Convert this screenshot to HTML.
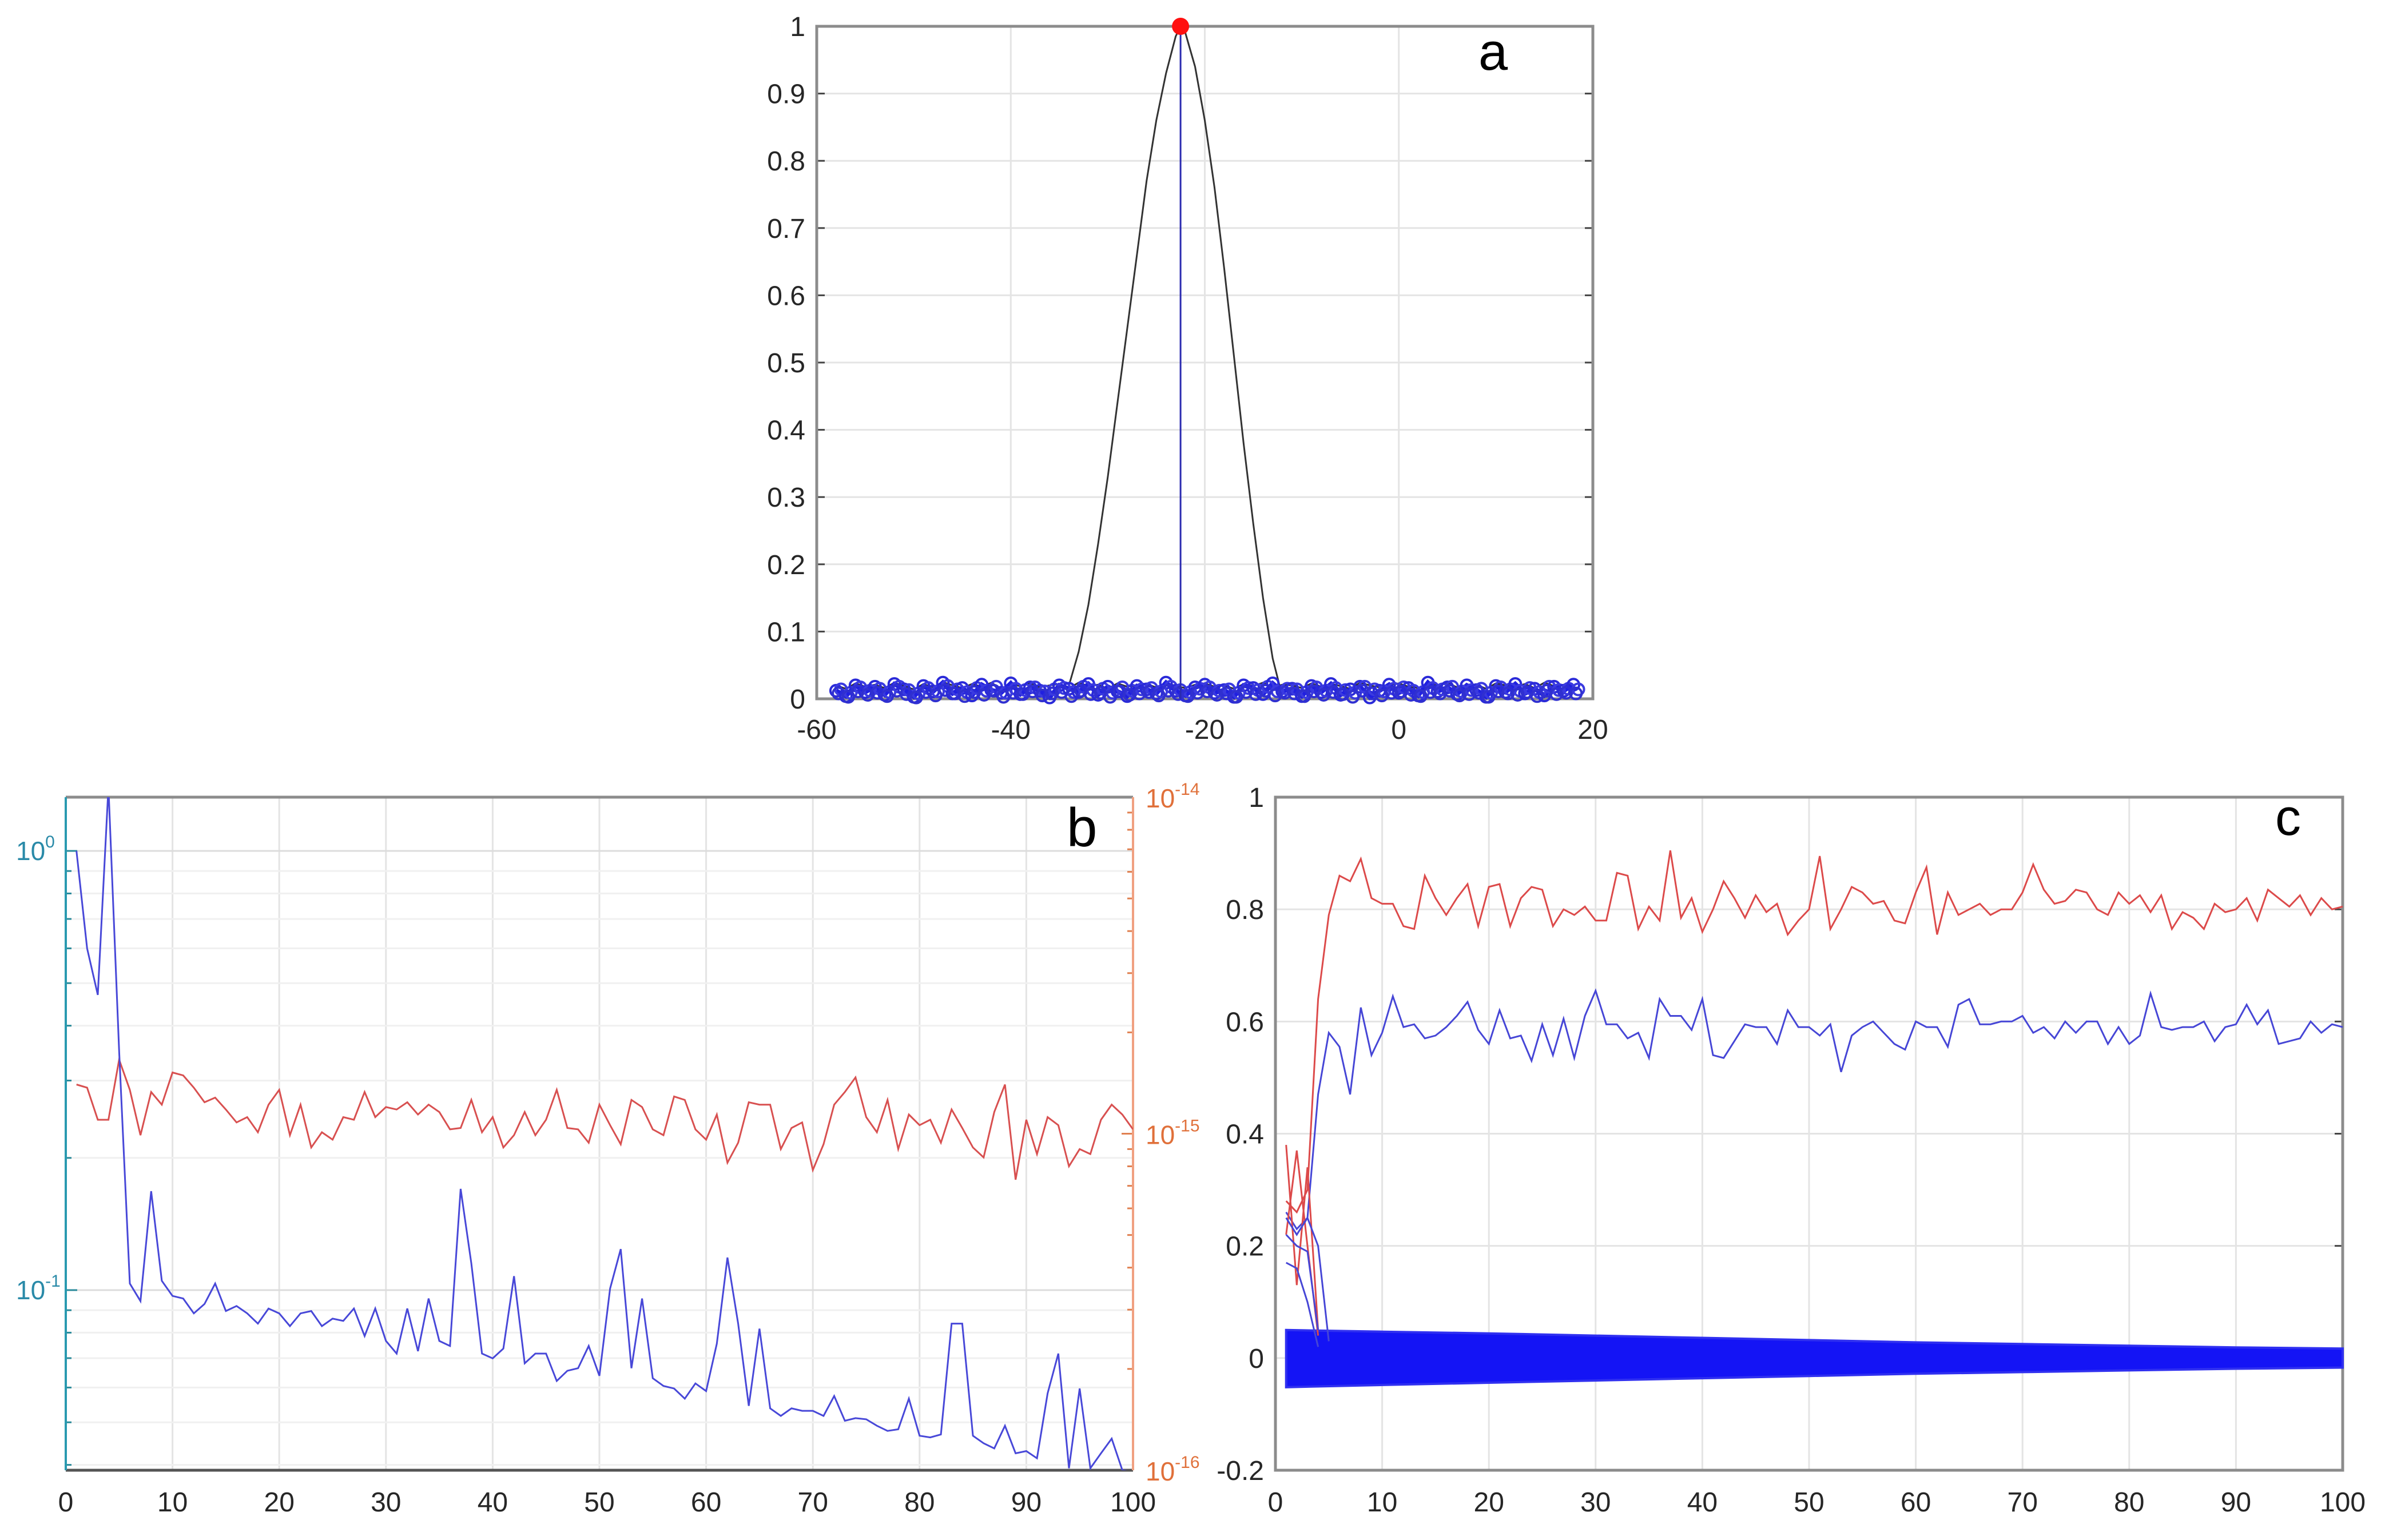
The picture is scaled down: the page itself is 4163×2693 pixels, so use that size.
<!DOCTYPE html>
<html><head><meta charset="utf-8"><style>
html,body{margin:0;padding:0;background:#fff;}
svg{display:block;font-family:"Liberation Sans",Arial,sans-serif;}
</style></head><body>
<svg id="fig" width="4163" height="2693" viewBox="0 0 4163 2693" xmlns="http://www.w3.org/2000/svg">
<rect width="4163" height="2693" fill="#fff"/>
</svg>
<script>
// ---------- Panel a data ----------
const aXTicks = [-60,-40,-20,0,20];
const aYTicks = [0,0.1,0.2,0.3,0.4,0.5,0.6,0.7,0.8,0.9,1];
const aCurveX = [-34,-33,-32,-31,-30,-29,-28,-27,-26,-25,-24,-23,-22.5,-22,-21,-20,-19,-18,-17,-16,-15,-14,-13,-12.3];
const aCurveY = [0.02,0.07,0.14,0.23,0.33,0.44,0.55,0.66,0.77,0.86,0.93,0.985,1.0,0.99,0.94,0.86,0.76,0.64,0.51,0.38,0.26,0.15,0.06,0.02];
const aPeakX = -22.5;
const aPeakY = 1;
const aNoiseStart = -58;
const aCircleY = [0.012,0.004,0.02,0.01,0.018,0.006,0.022,0.014,0.003,0.019,0.011,0.024,0.008,0.016,0.005,0.021,0.013,0.009,0.023,0.007,0.017,0.012,0.002,0.02,0.015,0.01,0.022,0.006,0.018,0.011,0.004,0.019,0.014,0.008,0.024,0.012,0.005,0.017,0.021,0.009,0.013,0.003,0.02,0.016,0.007,0.023,0.011,0.015,0.004,0.019,0.01,0.022,0.006,0.014,0.018,0.002,0.012,0.021,0.009,0.016,0.005,0.024,0.011,0.017,0.007,0.02,0.013,0.003,0.019,0.01,0.022,0.008,0.015,0.005,0.018,0.012,0.021];
const aBlackY = [0.02,0.015,0.023,0.018,0.021,0.016,0.024,0.019,0.014,0.022,0.017,0.025,0.02,0.016,0.022,0.018,0.024,0.015,0.021,0.019,0.023,0.017,0.02,0.022,0.016,0.024,0.019,0.021,0.015,0.023,0.018,0.02,0.022,0.017,0.024,0.019,0.016,0.021,0.023,0.018,0.02,0.015,0.022,0.019,0.024,0.017,0.021,0.02,0.016,0.023,0.018,0.022,0.019,0.015,0.024,0.02,0.017,0.021,0.023,0.018,0.016,0.022,0.02,0.024,0.017,0.019,0.021,0.015,0.023,0.02,0.018,0.022,0.016,0.024,0.019,0.021,0.02];
// ---------- Panel b data ----------
const bXTicks = [0,10,20,30,40,50,60,70,80,90,100];
const bBlue = [1.0,0.60,0.47,1.4,0.35,0.1035,0.0944,0.168,0.105,0.097,0.0957,0.0885,0.093,0.1035,0.0896,0.092,0.0885,0.0839,0.0908,0.0885,0.0828,0.0885,0.0896,0.0828,0.0861,0.0851,0.0908,0.0786,0.0908,0.0766,0.0717,0.0908,0.0726,0.0957,0.0766,0.0746,0.170,0.115,0.0717,0.0699,0.0736,0.1076,0.0681,0.0717,0.0717,0.0621,0.0655,0.0664,0.0746,0.0638,0.1008,0.124,0.0664,0.0957,0.0630,0.0605,0.0597,0.0566,0.0613,0.0589,0.0755,0.1186,0.0839,0.0545,0.0817,0.0538,0.0517,0.0538,0.0531,0.0531,0.0517,0.0574,0.0504,0.0511,0.0508,0.0491,0.0478,0.0482,0.0566,0.0466,0.0462,0.0469,0.0839,0.0839,0.0466,0.0448,0.0436,0.0491,0.0425,0.0430,0.0414,0.0582,0.0717,0.0393,0.0597,0.0393,0.0425,0.0459,0.0389,0.0385];
const bRed = [1.40e-15,1.37e-15,1.10e-15,1.10e-15,1.66e-15,1.35e-15,0.99e-15,1.33e-15,1.22e-15,1.52e-15,1.49e-15,1.37e-15,1.24e-15,1.28e-15,1.18e-15,1.08e-15,1.12e-15,1.01e-15,1.22e-15,1.35e-15,0.99e-15,1.22e-15,0.91e-15,1.01e-15,0.96e-15,1.12e-15,1.10e-15,1.33e-15,1.12e-15,1.20e-15,1.18e-15,1.24e-15,1.14e-15,1.22e-15,1.16e-15,1.03e-15,1.04e-15,1.26e-15,1.01e-15,1.12e-15,0.91e-15,0.99e-15,1.16e-15,0.99e-15,1.10e-15,1.35e-15,1.04e-15,1.03e-15,0.94e-15,1.22e-15,1.06e-15,0.93e-15,1.26e-15,1.20e-15,1.03e-15,0.99e-15,1.29e-15,1.26e-15,1.03e-15,0.96e-15,1.14e-15,0.82e-15,0.94e-15,1.24e-15,1.22e-15,1.22e-15,0.90e-15,1.04e-15,1.08e-15,0.78e-15,0.93e-15,1.22e-15,1.33e-15,1.47e-15,1.12e-15,1.01e-15,1.26e-15,0.90e-15,1.14e-15,1.06e-15,1.10e-15,0.94e-15,1.18e-15,1.04e-15,0.91e-15,0.85e-15,1.16e-15,1.40e-15,0.73e-15,1.10e-15,0.87e-15,1.12e-15,1.06e-15,0.80e-15,0.90e-15,0.87e-15,1.10e-15,1.22e-15,1.14e-15,1.03e-15];
// ---------- Panel c data ----------
const cXTicks = [0,10,20,30,40,50,60,70,80,90,100];
const cYTicks = [-0.2,0,0.2,0.4,0.6,0.8,1];
const cRed = [0.28,0.26,0.30,0.64,0.79,0.86,0.85,0.89,0.82,0.81,0.81,0.77,0.765,0.86,0.82,0.79,0.82,0.845,0.77,0.84,0.845,0.77,0.82,0.84,0.835,0.77,0.80,0.79,0.805,0.78,0.78,0.865,0.86,0.765,0.805,0.78,0.905,0.785,0.82,0.76,0.80,0.85,0.82,0.785,0.825,0.795,0.81,0.755,0.78,0.80,0.895,0.765,0.80,0.84,0.83,0.81,0.815,0.78,0.775,0.83,0.875,0.755,0.83,0.79,0.80,0.81,0.79,0.80,0.80,0.83,0.88,0.835,0.81,0.815,0.835,0.83,0.80,0.79,0.83,0.81,0.825,0.795,0.825,0.765,0.795,0.785,0.765,0.81,0.795,0.80,0.82,0.78,0.835,0.82,0.805,0.825,0.79,0.82,0.80,0.805];
const cBlue = [0.26,0.23,0.25,0.47,0.58,0.555,0.47,0.625,0.54,0.58,0.645,0.59,0.595,0.57,0.575,0.59,0.61,0.635,0.585,0.56,0.62,0.57,0.575,0.53,0.595,0.54,0.605,0.535,0.61,0.655,0.595,0.595,0.57,0.58,0.535,0.64,0.61,0.61,0.585,0.64,0.54,0.535,0.565,0.595,0.59,0.59,0.56,0.62,0.59,0.59,0.575,0.595,0.51,0.575,0.59,0.60,0.58,0.56,0.55,0.60,0.59,0.59,0.555,0.63,0.64,0.595,0.595,0.60,0.60,0.61,0.58,0.59,0.57,0.60,0.58,0.60,0.60,0.56,0.59,0.56,0.575,0.65,0.59,0.585,0.59,0.59,0.60,0.565,0.59,0.595,0.63,0.595,0.62,0.56,0.565,0.57,0.60,0.58,0.595,0.59];
const cEarlyRed1 = [0.38,0.13,0.34,0.05];
const cEarlyRed2 = [0.22,0.37,0.20,0.04];
const cEarlyBlue1 = [0.17,0.16,0.10,0.02];
const cEarlyBlue2 = [0.22,0.20,0.19,0.05];
const cEarlyBlue3 = [0.25,0.22,0.25,0.20,0.03];
const cBandX = [1,10,20,30,40,50,60,70,80,90,100];
const cBandTop = [0.05,0.047,0.044,0.04,0.036,0.032,0.028,0.025,0.022,0.019,0.017];
const cBandBot = [-0.052,-0.048,-0.044,-0.04,-0.036,-0.032,-0.028,-0.025,-0.022,-0.019,-0.017];

const NS = 'http://www.w3.org/2000/svg';
const svg = document.getElementById('fig');
function mk(tag, attrs, parent){
  const e = document.createElementNS(NS, tag);
  for (const k in attrs) e.setAttribute(k, attrs[k]);
  (parent||svg).appendChild(e);
  return e;
}
function poly(xs, ys, fx, fy){
  return xs.map((x,i)=>(i?'L':'M')+fx(x).toFixed(1)+','+fy(ys[i]).toFixed(1)).join(' ');
}
const GRID = '#e4e4e4', AX = '#8c8c8c', TXT = '#262626';

// ================= Panel a =================
const aL=1428,aR=2785,aT=46,aB=1222;
const ax = v => aL + (v+60)/80*(aR-aL);
const ay = v => aB - v*(aB-aT);
const ga = mk('g',{});


aXTicks.forEach(t=>{
  const g = mk('line',{x1:ax(t),x2:ax(t),y1:aT,y2:aB,stroke:GRID,'stroke-width':3},ga);
  
  
  const tx = mk('text',{x:ax(t),y:aB+70,'font-size':48,fill:TXT,'text-anchor':'middle'},ga);
  tx.textContent = t;
  
  
});
aYTicks.forEach(t=>{
  const g = mk('line',{x1:aL,x2:aR,y1:ay(t),y2:ay(t),stroke:GRID,'stroke-width':3},ga);
  
  
  const k1 = mk('line',{x1:aL,x2:aL+14,y1:ay(t),y2:ay(t),stroke:'#444','stroke-width':3},ga);
  
  
  const k2 = mk('line',{x1:aR-14,x2:aR,y1:ay(t),y2:ay(t),stroke:'#444','stroke-width':3},ga);
  
  
  const tx = mk('text',{x:aL-20,y:ay(t)+17,'font-size':48,fill:TXT,'text-anchor':'end'},ga);
  tx.textContent = t;
  
  
});
const aBox = mk('rect',{x:aL,y:aT,width:aR-aL,height:aB-aT,fill:'none',stroke:AX,'stroke-width':5},ga);


const aNX = aCircleY.map((_,i)=>aNoiseStart+i);
const aBl = mk('path',{d:poly(aNX,aBlackY,ax,ay),fill:'none',stroke:'#333','stroke-width':3},ga);


const aCurve = mk('path',{d:poly(aCurveX,aCurveY,ax,ay),fill:'none',stroke:'#333','stroke-width':3,'stroke-linejoin':'round'},ga);


const aBlueLine = mk('path',{d:poly(aNX,aCircleY,ax,ay),fill:'none',stroke:'#2020e0','stroke-width':8},ga);


aNX.forEach((x,i)=>{
  const c = mk('circle',{cx:ax(x),cy:ay(aCircleY[i]),r:10,fill:'none',stroke:'#2a2ad8','stroke-width':4},ga);
  
  
  const c2 = mk('circle',{cx:ax(x+0.5),cy:ay(aBlackY[i]-0.006),r:10,fill:'none',stroke:'#3a3ae0','stroke-width':4},ga);
  
  
  const c3 = mk('circle',{cx:ax(x+0.25),cy:ay(aBlackY[i]-0.012),r:10,fill:'none',stroke:'#3030d0','stroke-width':4},ga);
  
  
});
const aStem = mk('line',{x1:ax(aPeakX),x2:ax(aPeakX),y1:ay(0),y2:ay(aPeakY),stroke:'#2a2ab0','stroke-width':3},ga);


const aDot = mk('circle',{cx:ax(aPeakX),cy:ay(aPeakY),r:15,fill:'#ff1010'},ga);


const aLab = mk('text',{x:2585,y:122,'font-size':92,fill:'#000'},ga);
aLab.textContent='a';



// ================= Panel b =================
const bL=115,bR=1981,bT=1394,bB=2571;
const bx = v => bL + v/100*(bR-bL);
const byL = v => 1488 - Math.log10(v)*768;
const byR = v => bB - (Math.log10(v)+16)/2*(bB-bT);
const gb = mk('g',{});


bXTicks.forEach(t=>{
  const g = mk('line',{x1:bx(t),x2:bx(t),y1:bT,y2:bB,stroke:GRID,'stroke-width':3},gb);
  
  
  const tx = mk('text',{x:bx(t),y:bB+72,'font-size':48,fill:TXT,'text-anchor':'middle'},gb);
  tx.textContent = t;
  
  
});
[0.04,0.05,0.06,0.07,0.08,0.09,0.1,0.2,0.3,0.4,0.5,0.6,0.7,0.8,0.9,1].forEach(v=>{
  const major = (v===0.1||v===1);
  const g = mk('line',{x1:bL,x2:bR,y1:byL(v),y2:byL(v),stroke:major?'#dcdcdc':'#f0f0f0','stroke-width':3},gb);
  
  
  const k = mk('line',{x1:bL,x2:bL+(major?20:10),y1:byL(v),y2:byL(v),stroke:'#2a8a9a','stroke-width':3},gb);
  
  
});
[2e-16,3e-16,4e-16,5e-16,6e-16,7e-16,8e-16,9e-16,1e-15,2e-15,3e-15,4e-15,5e-15,6e-15,7e-15,8e-15,9e-15].forEach(v=>{
  const k = mk('line',{x1:bR-(v===1e-15?20:10),x2:bR,y1:byR(v),y2:byR(v),stroke:'#e08050','stroke-width':3},gb);
  
  
});
const bTop = mk('line',{x1:bL,x2:bR,y1:bT,y2:bT,stroke:AX,'stroke-width':5},gb);


const bBot = mk('line',{x1:bL,x2:bR,y1:bB,y2:bB,stroke:'#555','stroke-width':5},gb);


const bLA = mk('line',{x1:bL,x2:bL,y1:bT,y2:bB,stroke:'#2a9ab0','stroke-width':4},gb);


const bRA = mk('line',{x1:bR,x2:bR,y1:bT,y2:bB,stroke:'#f0a080','stroke-width':4},gb);


[[1,'0'],[0.1,'-1']].forEach(([v,e])=>{
  const tx = mk('text',{x:28,y:byL(v)+16,'font-size':46,fill:'#2a8aa8'},gb);
  
  
  const t1 = mk('tspan',{},tx); t1.textContent='10';
  const t2 = mk('tspan',{dy:-22,'font-size':30},tx); t2.textContent=e;
});
[[1e-14,'-14'],[1e-15,'-15'],[1e-16,'-16']].forEach(([v,e])=>{
  const tx = mk('text',{x:bR+22,y:byR(v)+18,'font-size':46,fill:'#e0703a'},gb);
  
  
  const t1 = mk('tspan',{},tx); t1.textContent='10';
  const t2 = mk('tspan',{dy:-22,'font-size':30},tx); t2.textContent=e;
});
const clipB = mk('clipPath',{id:'clipB'});
mk('rect',{x:bL,y:bT,width:bR-bL,height:bB-bT},clipB);
const bIdx = bBlue.map((_,i)=>i+1);
const bRedP = mk('path',{d:poly(bIdx,bRed,bx,byR),fill:'none',stroke:'#d85050','stroke-width':3,'clip-path':'url(#clipB)'},gb);


const bBlueP = mk('path',{d:poly(bIdx,bBlue,bx,byL),fill:'none',stroke:'#4848d8','stroke-width':3,'clip-path':'url(#clipB)'},gb);


const bLab = mk('text',{x:1865,y:1480,'font-size':96,fill:'#000'},gb);
bLab.textContent='b';



// ================= Panel c =================
const cL=2230,cR=4096,cT=1394,cB=2571;
const cx = v => cL + v/100*(cR-cL);
const cy = v => cT + (1-v)/1.2*(cB-cT);
const gc = mk('g',{});


cXTicks.forEach(t=>{
  const g = mk('line',{x1:cx(t),x2:cx(t),y1:cT,y2:cB,stroke:GRID,'stroke-width':3},gc);
  
  
  const tx = mk('text',{x:cx(t),y:cB+72,'font-size':48,fill:TXT,'text-anchor':'middle'},gc);
  tx.textContent = t;
  
  
});
cYTicks.forEach(t=>{
  const g = mk('line',{x1:cL,x2:cR,y1:cy(t),y2:cy(t),stroke:GRID,'stroke-width':3},gc);
  
  
  const k = mk('line',{x1:cR-14,x2:cR,y1:cy(t),y2:cy(t),stroke:'#444','stroke-width':3},gc);
  
  
  const tx = mk('text',{x:cL-20,y:cy(t)+17,'font-size':48,fill:TXT,'text-anchor':'end'},gc);
  tx.textContent = Math.round(t*10)/10;
  
  
});
const cBox = mk('rect',{x:cL,y:cT,width:cR-cL,height:cB-cT,fill:'none',stroke:AX,'stroke-width':5},gc);


const bandXs = cBandX.concat(cBandX.slice().reverse());
const bandYs = cBandTop.concat(cBandBot.slice().reverse());
const band = mk('path',{d:poly(bandXs,bandYs,cx,cy)+' Z',fill:'#1414f5',stroke:'#3030f0','stroke-width':4},gc);


const idx = cRed.map((_,i)=>i+1);
const cRedP = mk('path',{d:poly(idx,cRed,cx,cy),fill:'none',stroke:'#dc4a4a','stroke-width':3},gc);


const cBlueP = mk('path',{d:poly(idx,cBlue,cx,cy),fill:'none',stroke:'#4646d6','stroke-width':3},gc);


[[cEarlyRed1,'#dc4a4a'],[cEarlyRed2,'#dc4a4a'],[cEarlyBlue1,'#4646d6'],[cEarlyBlue2,'#4646d6'],[cEarlyBlue3,'#4646d6']].forEach(([arr,col])=>{
  const p = mk('path',{d:poly(arr.map((_,i)=>i+1),arr,cx,cy),fill:'none',stroke:col,'stroke-width':3},gc);
  
  
});
const cLab = mk('text',{x:3978,y:1460,'font-size':90,fill:'#000'},gc);
cLab.textContent='c';


</script>
</body></html>
